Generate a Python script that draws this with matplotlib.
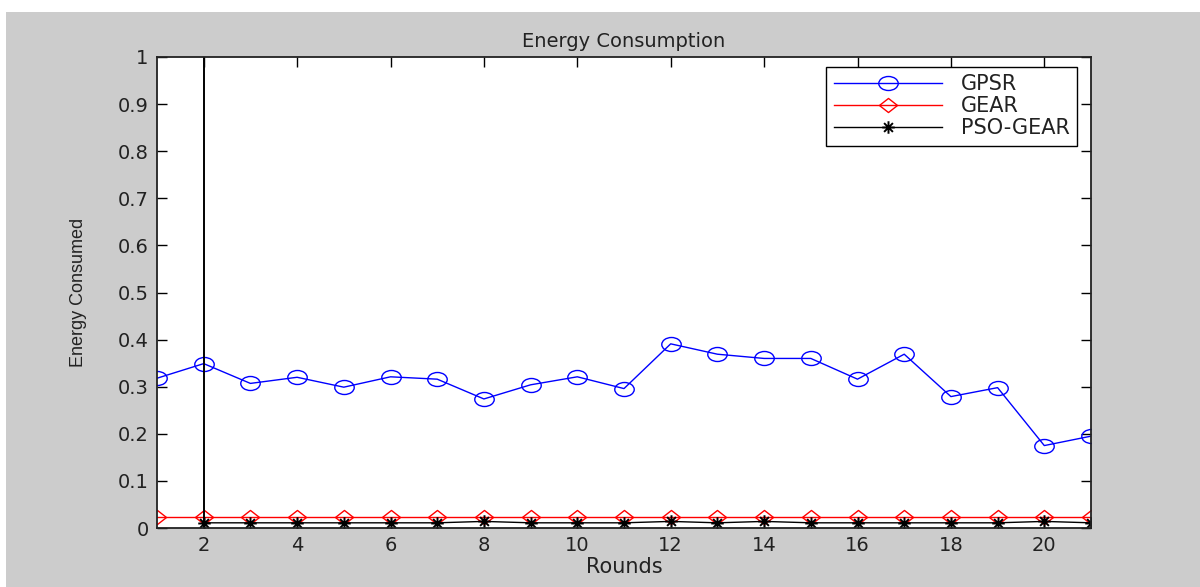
import matplotlib
matplotlib.use("Agg")
import matplotlib.pyplot as plt
from matplotlib.patches import Rectangle
from matplotlib.path import Path
from matplotlib.transforms import Affine2D
import numpy as np

rounds = list(range(1, 22))
gpsr = [0.318, 0.349, 0.307, 0.320, 0.299, 0.321, 0.316, 0.274, 0.304, 0.321,
        0.296, 0.391, 0.369, 0.360, 0.360, 0.316, 0.369, 0.279, 0.298, 0.175, 0.195]
gear = [0.023] * 21
pso_rounds = list(range(2, 22))
pso_gear = [0.011, 0.011, 0.011, 0.011, 0.011, 0.011, 0.014, 0.011, 0.011, 0.011,
            0.014, 0.011, 0.014, 0.011, 0.011, 0.011, 0.011, 0.011, 0.014, 0.011]
marker_line_x = 2
xticks = [2, 4, 6, 8, 10, 12, 14, 16, 18, 20]
yticks = [0, 0.1, 0.2, 0.3, 0.4, 0.5, 0.6, 0.7, 0.8, 0.9, 1]
ytick_labels = ["0", "0.1", "0.2", "0.3", "0.4", "0.5", "0.6", "0.7", "0.8", "0.9", "1"]

# marker shapes (wider than tall, like the reference)
ellipse = Path.unit_circle().transformed(Affine2D().scale(1.0, 0.72))
diamond = Path([(0, 0.78), (1, 0), (0, -0.78), (-1, 0), (0, 0.78)],
               [Path.MOVETO, Path.LINETO, Path.LINETO, Path.LINETO, Path.CLOSEPOLY])
s = np.sqrt(0.5)
asterisk = Path([(0, -1), (0, 1), (-s, -s), (s, s), (-s, s), (s, -s), (-1, 0), (1, 0)],
                [Path.MOVETO, Path.LINETO] * 4)

fig = plt.figure(figsize=(12, 5.87), dpi=100, facecolor="white")
fig.patches.append(Rectangle((6 / 1200, 0), 1, (587 - 12) / 587,
                             transform=fig.transFigure, facecolor="#cccccc",
                             edgecolor="none", zorder=-10))
ax = fig.add_axes([157 / 1200, (587 - 528) / 587, (1091 - 157) / 1200, (528 - 57) / 587])
ax.set_facecolor("white")

font = ["DejaVu Sans"]

ax.plot(rounds, gpsr, color="blue", lw=1, marker=ellipse, ms=14, mfc="none",
        mec="blue", mew=1, label="GPSR")
ax.plot(rounds, gear, color="red", lw=1, marker=diamond, ms=13, mfc="none",
        mec="red", mew=1, label="GEAR")
ax.plot(pso_rounds, pso_gear, color="black", lw=1, marker=asterisk, ms=9,
        mfc="none", mec="black", mew=1.4, label="PSO-GEAR")
ax.axvline(marker_line_x, color="black", lw=1.4)

ax.set_xlim(1, 21)
ax.set_ylim(0, 1)
ax.set_xticks(xticks)
ax.set_yticks(yticks)
ax.set_yticklabels(ytick_labels)
ax.tick_params(direction="in", length=7, width=1, top=True, right=True,
               labelsize=14, pad=6, labelcolor="#222222")
for lab in ax.get_xticklabels() + ax.get_yticklabels():
    lab.set_family(font)
for sp in ax.spines.values():
    sp.set_linewidth(1.3)
    sp.set_color("#222222")

ax.set_title("Energy Consumption", fontsize=14, family=font, pad=7, color="#222222")
ax.set_xlabel("Rounds", fontsize=15, family=font, labelpad=1, color="#222222")
ax.set_ylabel("Energy Consumed", fontsize=13, family=["Liberation Sans"],
              labelpad=22, color="#222222")

leg = ax.legend(loc="upper right", bbox_to_anchor=(0.985, 0.979), fancybox=False,
                framealpha=1, edgecolor="black", prop={"family": font, "size": 15},
                handlelength=5.2, borderpad=0.35, labelspacing=0.1, handletextpad=0.9,
                borderaxespad=0)
leg.get_frame().set_linewidth(1)
for t in leg.get_texts():
    t.set_color("#222222")

fig.savefig("out.png", dpi=100, facecolor=fig.get_facecolor())
